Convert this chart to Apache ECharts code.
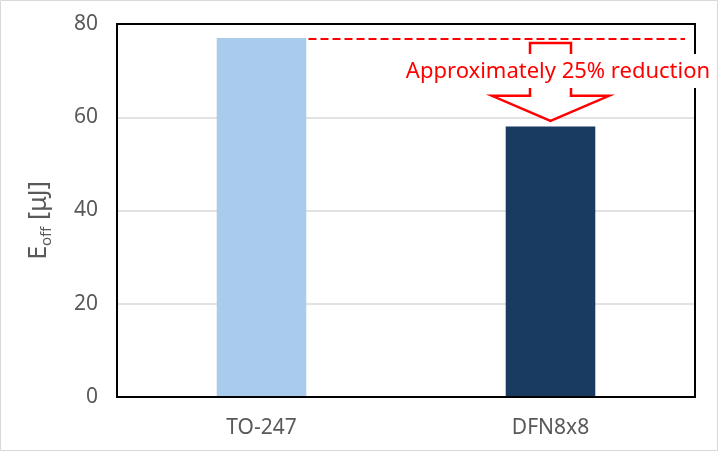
<!DOCTYPE html>
<html><head><meta charset="utf-8">
<script src="https://cdn.jsdelivr.net/npm/echarts@6/dist/echarts.min.js"></script>
<style>html,body{margin:0;padding:0;background:#fff}#c{width:727px;height:452px}</style>
</head><body><div id="c"></div>
<script>
const categories = ['TO-247', 'DFN8x8'];
const eoffValues = [77, 58];
const barColors = ['#A9CBEC', '#193B62'];
const yTicks = { min: 0, max: 80, interval: 20 };
const annotationText = 'Approximately 25% reduction';

const FONT = 'Noto Sans';
const chart = echarts.init(document.getElementById('c'), null, { renderer: 'canvas' });
const GL = 117, GT = 24, GW = 578, GH = 373;
const option = {
  backgroundColor: '#fff',
  animation: false,
  grid: { left: GL, top: GT, width: GW, height: GH },
  xAxis: {
    type: 'category', data: categories,
    axisTick: { show: false }, axisLine: { show: false },
    axisLabel: { color: '#595959', fontSize: 21, fontFamily: FONT, margin: 21 }
  },
  yAxis: {
    type: 'value', min: yTicks.min, max: yTicks.max, interval: yTicks.interval,
    axisLine: { show: false }, axisTick: { show: false },
    splitLine: { lineStyle: { color: '#D9D9D9', width: 1.5 } },
    axisLabel: { color: '#595959', fontSize: 21, fontFamily: FONT, margin: 19 },
    name: '{m|E}{s|off}{m| [μJ]}',
    nameLocation: 'middle', nameGap: 63, nameRotate: 90,
    nameTextStyle: {
      padding: [0, 20, 0, 0],
      rich: {
        m: { fontSize: 25, color: '#595959', fontFamily: FONT, lineHeight: 30, verticalAlign: 'middle' },
        s: { fontSize: 15, color: '#595959', fontFamily: FONT, lineHeight: 30, verticalAlign: 'bottom', padding: [12, 0, 0, 0] }
      }
    }
  },
  series: [{
    type: 'bar', barWidth: '31%',
    data: eoffValues.map((v, i) => ({ value: v, itemStyle: { color: barColors[i] } }))
  }]
};
chart.setOption(option);

// annotation placed relative to the bars via the axes
const p0 = chart.convertToPixel({ seriesIndex: 0 }, [0, eoffValues[0]]);
const p1 = chart.convertToPixel({ seriesIndex: 0 }, [1, eoffValues[1]]);
const gridRight = GL + GW;
const halfBar = 45;
const lineY = p0[1] + 1;
const cx = p1[0];
const stemTop = chart.convertToPixel({ yAxisIndex: 0 }, 75.9);
const headY = chart.convertToPixel({ yAxisIndex: 0 }, 64.6);
const tipY = chart.convertToPixel({ yAxisIndex: 0 }, 59.2);
const sw = 20.5, hw = 58.5;
chart.setOption({
  graphic: [
    { type: 'rect', silent: true, z: 100, shape: { x: 0.5, y: 0.5, width: 717, height: 450 }, style: { fill: null, stroke: '#D9D9D9', lineWidth: 1 } },
    { type: 'rect', silent: true, z: 100, shape: { x: GL, y: GT, width: GW, height: GH }, style: { fill: null, stroke: '#000', lineWidth: 2 } },
    { type: 'line', silent: true, z: 101, shape: { x1: p0[0] + halfBar + 2, y1: lineY, x2: gridRight - 10, y2: lineY },
      style: { stroke: '#FF0000', lineWidth: 2, lineDash: [8, 4] } },
    { type: 'polygon', silent: true, z: 101, shape: { points: [
        [cx - sw, stemTop], [cx + sw, stemTop], [cx + sw, headY], [cx + hw, headY],
        [cx, tipY], [cx - hw, headY], [cx - sw, headY] ] },
      style: { fill: '#fff', stroke: '#FF0000', lineWidth: 2.5, lineJoin: 'miter' } },
    { type: 'rect', silent: true, z: 102, shape: { x: 404, y: 54, width: 308, height: 34 }, style: { fill: '#fff' } },
    { type: 'text', silent: true, z: 103, x: 558, y: 72, style: { text: annotationText, fill: '#FF0000', fontSize: 22, fontFamily: FONT, align: 'center', verticalAlign: 'middle' } }
  ]
});
</script></body></html>
